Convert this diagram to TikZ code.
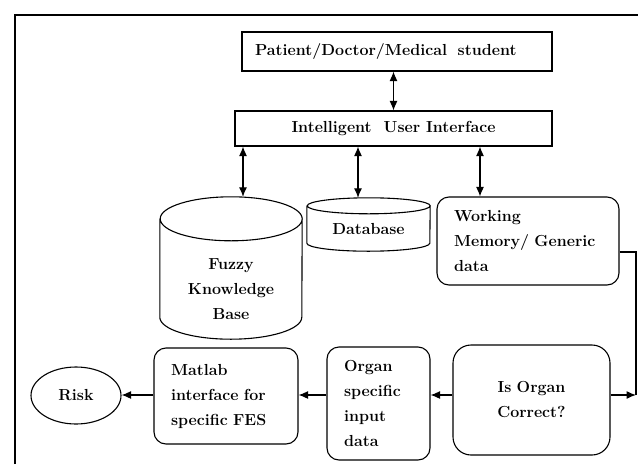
\documentclass[tikz,border=0pt]{standalone}
\usetikzlibrary{shapes.geometric,arrows.meta}

\tikzset{
    every node/.style={font=\fontsize{16}{25}\selectfont\bfseries},
    sqbox/.style={draw,line width=1.1pt,rectangle,inner sep=0pt},
    rdbox/.style={draw,line width=1.1pt,rectangle,rounded corners=12pt,
        align=left,inner xsep=17pt,inner ysep=0pt},
    store/.style={rectangle,inner sep=0pt,align=center},
    dbl/.style={line width=1.1pt,{Latex[length=9.5pt,width=8pt]}-{Latex[length=9.5pt,width=8pt]}},
    sgl/.style={line width=1.1pt,-{Latex[length=9.5pt,width=8pt]}}
}

\begin{document}
\begin{tikzpicture}[x=1pt,y=-1pt]
\useasboundingbox (0,0) rectangle (638,464);
\draw[line width=1.8pt] (15,464) -- (15,15) -- (638,15);

\node[sqbox,align=left,text width=284pt,inner xsep=13pt,minimum height=39pt] (user) at (397,51.5)
    {Patient/Doctor/Medical\ \ student};
\node[sqbox,minimum width=317pt,minimum height=35pt] (iui) at (393.5,128.5)
    {Intelligent\ \ User Interface};

\node[store,minimum width=142pt,minimum height=142pt] (fkb) at (231,268) {};
\draw[line width=1.1pt] ([yshift=-22pt]fkb.north west)
    -- ([yshift=22pt]fkb.south west)
    arc[start angle=180,end angle=360,x radius=71pt,y radius=22pt]
    -- ([yshift=-22pt]fkb.north east)
    arc[start angle=0,end angle=360,x radius=71pt,y radius=22pt];
\node[align=center] (fkbtxt) at (231,289) {Fuzzy\\Knowledge\\Base};
\node[store,minimum width=123pt,minimum height=53pt] (db) at (368.5,224.5) {};
\draw[line width=1.1pt] ([yshift=-8pt]db.north west)
    -- ([yshift=8pt]db.south west)
    arc[start angle=180,end angle=360,x radius=61.5pt,y radius=8pt]
    -- ([yshift=-8pt]db.north east)
    arc[start angle=0,end angle=360,x radius=61.5pt,y radius=8pt];
\node (dbtxt) at (368.5,229) {Database};
\node[rdbox,text width=148pt,minimum height=88pt] (wm) at (528,241)
    {Working\\Memory/ Generic\\data};

\node[rdbox,rounded corners=18pt,align=center,text width=123pt,minimum height=110pt] (check) at (531.5,400)
    {Is Organ\\Correct?};
\node[rdbox,text width=69pt,minimum height=113pt] (organ) at (378.5,403.5)
    {Organ\\specific\\input\\data};
\node[rdbox,text width=110pt,minimum height=96pt] (fes) at (226,396)
    {Matlab\\interface for\\specific FES};
\node[draw,line width=1.1pt,ellipse,minimum width=90pt,minimum height=57pt,inner sep=0pt] (risk) at (76,395.5)
    {Risk};

\coordinate (bend) at (636,252);
\coordinate (turn) at (636,395);

\draw[dbl] (iui.north) -- (iui.north |- user.south);
\draw[dbl] ([xshift=12pt]fkb.north |- iui.south) -- ([xshift=12pt]fkb.north);
\draw[dbl] ([xshift=-10.5pt]db.north |- iui.south) -- ([xshift=-10.5pt]db.north);
\draw[dbl] ([xshift=-48pt]wm.north |- iui.south) -- ([xshift=-48pt]wm.north);

\draw[line width=1.1pt] (wm.east |- bend) -- (bend) -- (turn);
\draw[sgl] (check.east |- turn) -- (turn);
\draw[sgl] (check.west |- turn) -- (organ.east |- turn);
\draw[sgl] (organ.west |- turn) -- (fes.east |- turn);
\draw[sgl] (fes.west |- turn) -- (risk.east |- turn);
\end{tikzpicture}
\end{document}
